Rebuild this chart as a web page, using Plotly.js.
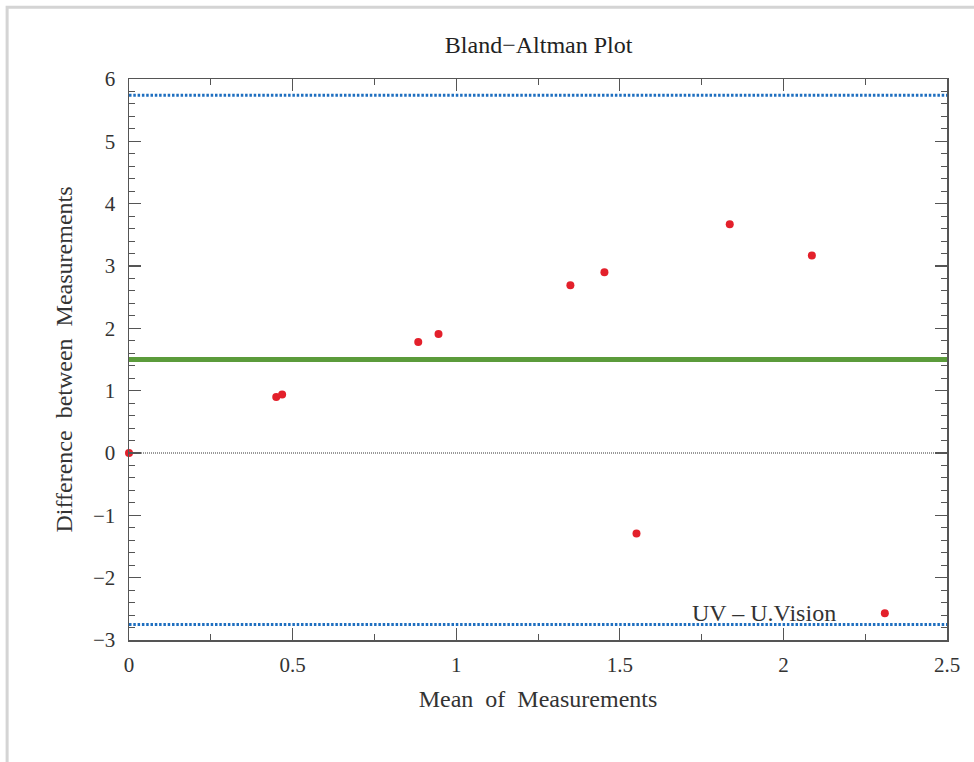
<!DOCTYPE html>
<html>
<head>
<meta charset="utf-8">
<script src="https://cdn.plot.ly/plotly-3.0.1.min.js"></script>
<style>html,body{margin:0;padding:0;background:#fff;}#chart{width:974px;height:762px;}</style>
</head>
<body>
<div id="chart"></div>
<script>
// Data
const meanValues = [0, 0.45, 0.468, 0.884, 0.946, 1.349, 1.453, 1.551, 1.836, 2.087, 2.31];
const diffValues = [0, 0.90, 0.94, 1.78, 1.91, 2.69, 2.90, -1.29, 3.67, 3.17, -2.57];
const meanDiff = 1.50;
const upperLoA = 5.74;
const lowerLoA = -2.75;
const xSpan = [0, 2.5];
const labelText = 'UV \u2013 U.Vision';
const labelPos = [1.94, -2.57];

const serif = 'Liberation Serif, Times New Roman, serif';

const traces = [
  {x: xSpan, y: [0, 0], mode: 'lines', line: {color: '#333', width: 1, dash: '1px,1px'}, hoverinfo: 'skip', showlegend: false},
  {x: xSpan, y: [upperLoA, upperLoA], mode: 'lines', line: {color: '#1f6fc0', width: 3, dash: '2.5px,1.8px'}, showlegend: false},
  {x: xSpan, y: [lowerLoA, lowerLoA], mode: 'lines', line: {color: '#1f6fc0', width: 3, dash: '2.5px,1.8px'}, showlegend: false},
  {x: xSpan, y: [meanDiff, meanDiff], mode: 'lines', line: {color: '#5b9b3b', width: 5}, showlegend: false},
  {x: meanValues, y: diffValues, mode: 'markers', marker: {color: '#e3202b', size: 8}, cliponaxis: false, showlegend: false}
];

const axisCommon = {
  showgrid: false, zeroline: false, showline: true, linecolor: '#555', linewidth: 1.5,
  mirror: 'allticks', ticks: 'inside', tickcolor: '#555', tickwidth: 1.2,
  tickfont: {family: serif, size: 21, color: '#333'}
};

const layout = {
  width: 974, height: 762,
  margin: {l: 129, r: 27, t: 79, b: 122},
  paper_bgcolor: '#fff', plot_bgcolor: '#fff',
  title: {text: 'Bland\u2212Altman Plot', font: {family: serif, size: 24, color: '#222'}, x: 0.553, xanchor: 'center', y: 0.942, yanchor: 'middle'},
  xaxis: Object.assign({}, axisCommon, {
    range: xSpan, dtick: 0.5, tick0: 0, ticklen: 12,
    minor: {ticks: 'inside', dtick: 0.25, ticklen: 6, tickcolor: '#555', tickwidth: 1},
    ticklabelstandoff: 5,
    title: {text: 'Mean  of  Measurements', font: {family: serif, size: 24, color: '#333'}, standoff: 14}
  }),
  yaxis: Object.assign({}, axisCommon, {
    range: [-3, 6], dtick: 1, tick0: 0, ticklen: 12,
    minor: {ticks: 'inside', dtick: 0.2, ticklen: 6, tickcolor: '#555', tickwidth: 1},
    ticklabelstandoff: 8,
    tickformat: 'd',
    title: {text: 'Difference  between  Measurements', font: {family: serif, size: 24, color: '#333'}, standoff: 13}
  }),
  annotations: [{x: labelPos[0], y: labelPos[1], xref: 'x', yref: 'y', text: labelText, showarrow: false, font: {family: serif, size: 24, color: '#333'}}],
  shapes: [
    {type: 'rect', xref: 'paper', yref: 'paper', x0: -0.149, x1: 1.2, y0: -0.4, y1: 1.128, line: {color: '#d4d4d4', width: 3}, fillcolor: 'rgba(0,0,0,0)', layer: 'below'}
  ]
};

Plotly.newPlot('chart', traces, layout, {displayModeBar: false, staticPlot: true});
</script>
</body>
</html>
